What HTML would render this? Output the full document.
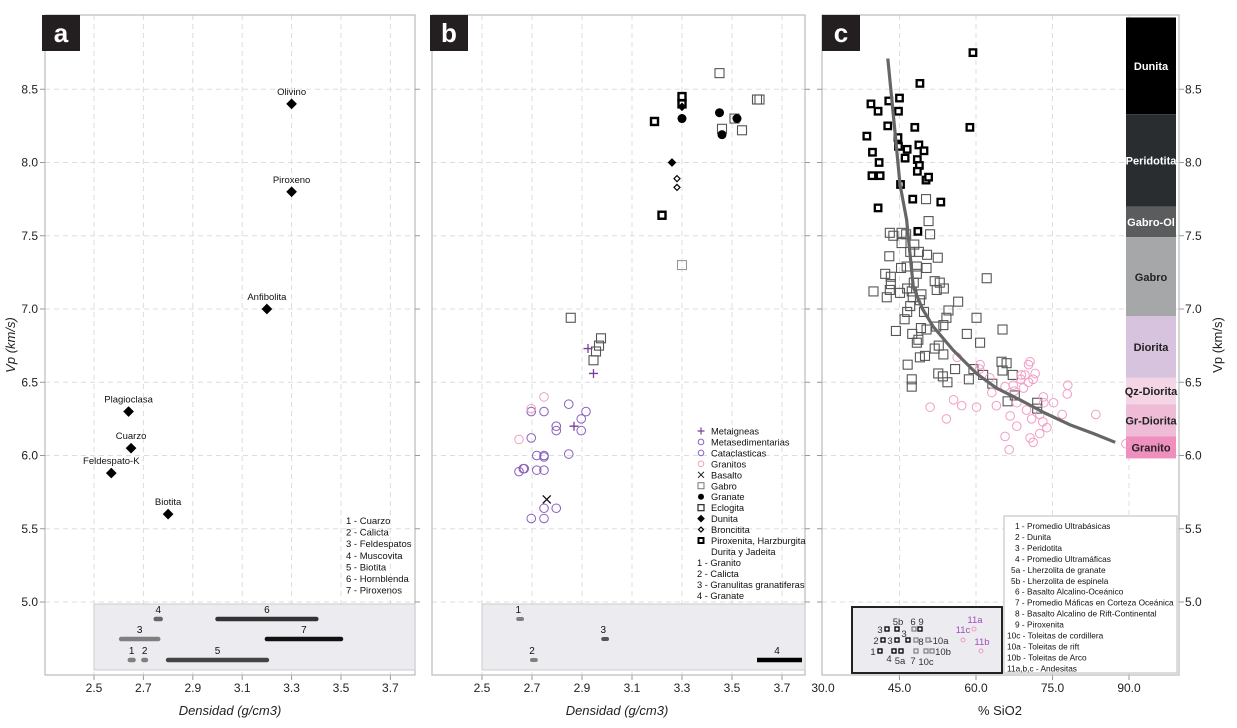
<!DOCTYPE html>
<html><head><meta charset="utf-8"><style>
body{margin:0;background:#fff;width:1237px;height:728px;overflow:hidden}
svg{display:block;font-family:"Liberation Sans",sans-serif}
</style></head><body>
<svg id="s" width="1237" height="728" viewBox="0 0 1237 728"></svg>
<script>
// ---- Panel a data ----
const minNames=["Olivino","Piroxeno","Anfibolita","Plagioclasa","Cuarzo","Feldespato-K","Biotita"];
const minDens=[3.3,3.3,3.2,2.64,2.65,2.57,2.8];
const minVp=[8.4,7.8,7.0,6.3,6.05,5.88,5.6];
const rangeLabels=["1","2","3","4","5","6","7"];
const rangeStart=[2.645,2.70,2.61,2.75,2.80,3.00,3.20];
const rangeEnd=[2.66,2.71,2.76,2.77,3.20,3.40,3.50];
const rangeRow=[0,0,1,2,0,2,1];
const rangeColor=["#7f7f7f","#7f7f7f","#7f7f7f","#666","#444","#333","#111"];
const legendA=["1 - Cuarzo","2 - Calicta","3 - Feldespatos","4 - Muscovita","5 - Biotita","6 - Hornblenda","7 - Piroxenos"];
const densTicks=[2.5,2.7,2.9,3.1,3.3,3.5,3.7];
const vpTicks=[5.0,5.5,6.0,6.5,7.0,7.5,8.0,8.5];
// ---- Panel b data ----
const gabroD=[3.45,3.60,3.61,3.54,3.46,3.51,2.855,2.976,2.968,2.956,2.946,3.30];
const gabroV=[8.61,8.43,8.43,8.22,8.23,8.30,6.94,6.80,6.75,6.71,6.65,7.30];
const piroxD=[3.30,3.30,3.19,3.22];
const piroxV=[8.45,8.40,8.28,7.64];
const granateD=[3.30,3.45,3.52,3.46];
const granateV=[8.30,8.34,8.30,8.19];
const dunitaD=[3.30,3.26];
const dunitaV=[8.38,8.00];
const bronD=[3.28,3.28];
const bronV=[7.89,7.83];
const metaigD=[2.924,2.946,2.868];
const metaigV=[6.73,6.56,6.20];
const metasedD=[2.847,2.916,2.897,2.748,2.697,2.797,2.797,2.897,2.697,2.719,2.748,2.748,2.847,2.648,2.665,2.669,2.719,2.748,2.748,2.797,2.697,2.748];
const metasedV=[6.35,6.30,6.25,6.30,6.30,6.20,6.17,6.17,6.12,6.00,6.00,5.99,6.01,5.89,5.91,5.91,5.90,5.90,5.64,5.64,5.57,5.57];
const granitosD=[2.748,2.697,2.648];
const granitosV=[6.40,6.32,6.11];
const basaltoD=[2.759];
const basaltoV=[5.70];
const rangeBLabels=["1","2","3","4"];
const rangeBStart=[2.645,2.70,2.985,3.60];
const rangeBEnd=[2.66,2.715,3.0,3.78];
const rangeBRow=[2,0,1,0];
const rangeBColor=["#7f7f7f","#7f7f7f","#555","#000"];
// ---- Panel c data ----
const ultraS=[59.4,49.0,39.4,40.8,42.9,45.0,44.8,42.7,48.0,58.8,38.6,44.7,44.8,46.5,48.8,49.8,39.7,41.0,46.1,48.5,48.9,48.5,39.6,41.2,50.2,50.7,45.2,47.6,53.1,40.8,48.6];
const ultraV=[8.75,8.54,8.40,8.35,8.42,8.44,8.35,8.25,8.24,8.24,8.18,8.17,8.11,8.09,8.12,8.08,8.07,8.00,8.03,8.02,7.98,7.94,7.91,7.91,7.88,7.90,7.85,7.75,7.73,7.69,7.53];
const maficS=[43.1,43.8,45.4,46.3,51.0,45.4,47.9,47.1,48.8,43.0,50.4,52.5,45.3,46.4,48.4,50.3,42.2,43.3,48.4,43.3,51.9,52.9,47.8,39.9,43.1,45.1,46.5,47.4,49.3,52.3,53.7,62.1,42.5,47.6,49.0,56.5,47.1,49.8,54.6,46.5,46.0,54.2,60.1,44.3,49.2,50.3,52.2,53.6,65.2,47.5,48.7,48.4,58.2,60.8,51.9,52.7,53.6,50.0,49.0,46.6,55.9,59.5,65.0,66.0,65.2,52.6,53.5,54.4,47.4,47.4,58.6,61.4,67.2,63.2,67.6,66.2,72.0,72.0,50.2,50.7];
const maficV=[7.52,7.50,7.52,7.51,7.51,7.45,7.44,7.39,7.39,7.36,7.37,7.35,7.28,7.29,7.29,7.28,7.24,7.22,7.24,7.17,7.19,7.18,7.18,7.12,7.13,7.11,7.14,7.12,7.10,7.13,7.14,7.21,7.08,7.08,7.06,7.05,7.02,6.98,6.99,6.98,6.93,6.94,6.94,6.85,6.87,6.86,6.88,6.89,6.86,6.83,6.79,6.77,6.83,6.77,6.73,6.75,6.69,6.68,6.67,6.62,6.59,6.59,6.64,6.63,6.58,6.56,6.54,6.50,6.52,6.47,6.52,6.55,6.55,6.49,6.41,6.37,6.36,6.32,7.75,7.60];
const felsS=[56.3,60.8,60.7,62.7,63.1,64.0,65.7,67.3,67.5,68.0,68.9,68.8,69.6,70.3,70.6,70.3,71.6,71.2,69.3,51.0,54.2,55.6,57.2,60.1,66.7,68.0,65.7,66.5,69.9,70.9,72.5,73.1,73.2,73.3,75.2,73.9,72.5,70.6,71.2,78.0,77.9,76.9,83.5,89.4];
const felsV=[6.67,6.62,6.59,6.53,6.43,6.34,6.47,6.48,6.44,6.36,6.55,6.52,6.55,6.50,6.64,6.62,6.56,6.52,6.46,6.33,6.25,6.38,6.34,6.33,6.27,6.20,6.13,6.04,6.31,6.25,6.28,6.23,6.40,6.36,6.36,6.19,6.15,6.12,6.09,6.48,6.42,6.28,6.28,6.08];
const curveS=[42.7,44.0,45.1,46.4,47.7,49.5,51.6,55.5,60.1,64.0,68.6,73.5,78.4,83.0,87.3];
const curveV=[8.71,8.25,7.85,7.61,7.15,7.00,6.88,6.72,6.56,6.46,6.38,6.29,6.21,6.15,6.09];
const rockNames=["Dunita","Peridotita","Gabro-Ol","Gabro","Diorita","Qz-Diorita","Gr-Diorita","Granito"];
const rockTop=[8.99,8.33,7.70,7.49,6.95,6.53,6.35,6.13];
const rockBot=[8.33,7.70,7.49,6.95,6.53,6.35,6.13,5.98];
const rockColor=["#000000","#2a2d30","#5a5c5e","#a5a7a9","#d8c3df","#f3d5e6","#efbcd8","#ef8fbd"];
const sioTicks=[30.0,45.0,60.0,75.0,90.0];
const legendC=["1 - Promedio Ultrabásicas","2 - Dunita","3 - Peridotita","4 - Promedio Ultramáficas","5a - Lherzolita de granate","5b - Lherzolita de espinela","6 - Basalto Alcalino-Oceánico","7 - Promedio Máficas en Corteza Oceánica","8 - Basalto Alcalino de Rift-Continental","9 - Piroxenita","10c - Toleitas de cordillera","10a - Toleitas de rift","10b - Toleitas de Arco","11a,b,c - Andesitas"];

const NS="http://www.w3.org/2000/svg";
const svg=document.getElementById('s');
function el(tag,attrs,parent,txt){const e=document.createElementNS(NS,tag);for(const k in attrs)e.setAttribute(k,attrs[k]);if(txt!==undefined)e.textContent=txt;(parent||svg).appendChild(e);return e;}
const Y=v=>602-(v-5)*146.5;
const xa=d=>94+(d-2.5)*247;
const xb=d=>482+(d-2.5)*250;
const xc=s=>823+(s-30)*5.1;

function frame(name,x0,x1,xs,ticks,fmt){
  const g=el('g',{});
  
  
  vpTicks.forEach(v=>{const l=el('line',{x1:x0,x2:x1,y1:Y(v),y2:Y(v),stroke:'#ddd','stroke-dasharray':'5,4'},g);
    });
  ticks.forEach(t=>{const l=el('line',{x1:xs(t),x2:xs(t),y1:15,y2:675,stroke:'#ddd','stroke-dasharray':'5,4'},g);
    
    el('line',{x1:xs(t),x2:xs(t),y1:675,y2:680,stroke:'#999'},g);
    const tx=el('text',{x:xs(t),y:692,'font-size':12,'text-anchor':'middle',fill:'#222'},g,fmt(t));
    });
  const r=el('rect',{x:x0,y:15,width:x1-x0,height:660,fill:'none',stroke:'#bbb','stroke-width':1.2},g);
  
  return g;
}
function badge(x,letter){const g=el('g',{});
  el('rect',{x:x,y:15,width:38,height:36,fill:'#231f20'},g);
  el('text',{x:x+19,y:42,'font-size':26,'font-weight':'bold','text-anchor':'middle',fill:'#fff'},g,letter);}
function diamond(g,x,y,r,fill,stroke){return el('path',{d:`M${x} ${y-r}L${x+r} ${y}L${x} ${y+r}L${x-r} ${y}Z`,fill:fill,stroke:stroke||fill,'stroke-width':1.2},g);}

// ===== Panel a =====
const ga=frame('a',45,415,xa,densTicks,t=>t.toFixed(1));
vpTicks.forEach(v=>{el('line',{x1:40,x2:45,y1:Y(v),y2:Y(v),stroke:'#999'},ga);el('line',{x1:415,x2:420,y1:Y(v),y2:Y(v),stroke:'#999'},ga);
  const t=el('text',{x:38,y:Y(v)+4,'font-size':12,'text-anchor':'end',fill:'#222'},ga,v.toFixed(1));
  });
badge(42,'a');
minNames.forEach((n,i)=>{const p=diamond(ga,xa(minDens[i]),Y(minVp[i]),4.5,'#000');
  
  const t=el('text',{x:xa(minDens[i]),y:Y(minVp[i])-9,'font-size':9.5,'text-anchor':'middle',fill:'#111'},ga,n);
  });
let inA=el('rect',{x:94,y:604,width:321,height:66,fill:'#ecebf0',stroke:'#ccc'},ga);

const rowY=[660,639,619];
rangeLabels.forEach((l,i)=>{const y=rowY[rangeRow[i]];
  const b=el('line',{x1:xa(rangeStart[i]),x2:xa(rangeEnd[i]),y1:y,y2:y,stroke:rangeColor[i],'stroke-width':4.5,'stroke-linecap':'round'},ga);
  
  el('text',{x:(xa(rangeStart[i])+xa(rangeEnd[i]))/2,y:y-6,'font-size':10,'text-anchor':'middle',fill:'#111'},ga,l);});
legendA.forEach((l,i)=>{const t=el('text',{x:346,y:524+i*11.6,'font-size':9.5,fill:'#111'},ga,l);
  });
let ta=el('text',{x:15,y:345,'font-size':13,'font-style':'italic','text-anchor':'middle',transform:'rotate(-90 15 345)',fill:'#222'},svg,'Vp (km/s)');

ta=el('text',{x:230,y:715,'font-size':13,'font-style':'italic','text-anchor':'middle',fill:'#222'},svg,'Densidad (g/cm3)');


// ===== Panel b =====
const gb=frame('b',432,805,xb,densTicks,t=>t.toFixed(1));
vpTicks.forEach(v=>{el('line',{x1:805,x2:810,y1:Y(v),y2:Y(v),stroke:'#999'},gb);});
badge(430,'b');
let inB=el('rect',{x:482,y:604,width:323,height:66,fill:'#ecebf0',stroke:'#ccc'},gb);

rangeBLabels.forEach((l,i)=>{const y=rowY[rangeBRow[i]];
  const b=el('line',{x1:xb(rangeBStart[i]),x2:xb(rangeBEnd[i]),y1:y,y2:y,stroke:rangeBColor[i],'stroke-width':i==3?4.5:4,'stroke-linecap':i==3?'butt':'round'},gb);
  
  el('text',{x:i==3?777:xb(rangeBStart[i]),y:y-6,'font-size':10,'text-anchor':'middle',fill:'#111'},gb,l);});
function sq(g,x,y,s,stroke,sw,fill){return el('rect',{x:x-s/2,y:y-s/2,width:s,height:s,fill:fill||'none',stroke:stroke,'stroke-width':sw},g);}
gabroD.forEach((d,i)=>{const p=sq(gb,xb(d),Y(gabroV[i]),9,i==11?'#999':'#555',1.1);});
piroxD.forEach((d,i)=>{const p=sq(gb,xb(d),Y(piroxV[i]),7,'#000',2.4,'#fff');});
granateD.forEach((d,i)=>{const p=el('circle',{cx:xb(d),cy:Y(granateV[i]),r:4.5,fill:'#000'},gb);});
dunitaD.forEach((d,i)=>{const p=diamond(gb,xb(d),Y(dunitaV[i]),3.5,'#000');});
bronD.forEach((d,i)=>{const p=diamond(gb,xb(d),Y(bronV[i]),3,'#fff','#000');});
metasedD.forEach((d,i)=>{const p=el('circle',{cx:xb(d),cy:Y(metasedV[i]),r:4.3,fill:'none',stroke:'#8a5fbe','stroke-width':1},gb);});
granitosD.forEach((d,i)=>{const p=el('circle',{cx:xb(d),cy:Y(granitosV[i]),r:4.3,fill:'none',stroke:'#f0a0c0','stroke-width':1},gb);});
metaigD.forEach((d,i)=>{const x=xb(d),y=Y(metaigV[i]);const p=el('path',{d:`M${x-4.5} ${y}H${x+4.5}M${x} ${y-4.5}V${y+4.5}`,stroke:'#7a3f9e','stroke-width':1.3},gb);});
basaltoD.forEach((d,i)=>{const x=xb(d),y=Y(basaltoV[i]);const p=el('path',{d:`M${x-4} ${y-4}L${x+4} ${y+4}M${x+4} ${y-4}L${x-4} ${y+4}`,stroke:'#111','stroke-width':1.3},gb);});
// legend b
const lgB=el('g',{},gb);
const lbItems=["Metaigneas","Metasedimentarias","Cataclasticas","Granitos","Basalto","Gabro","Granate","Eclogita","Dunita","Broncitita","Piroxenita, Harzburgita","Durita y Jadeita","1 - Granito","2 - Calicta","3 - Granulitas granatiferas","4 - Granate"];
lbItems.forEach((l,i)=>{const y=431+i*10.95;const x=701;
  if(i==0)el('path',{d:`M${x-3.5} ${y}H${x+3.5}M${x} ${y-3.5}V${y+3.5}`,stroke:'#7a3f9e','stroke-width':1.2},lgB);
  if(i==1||i==2)el('circle',{cx:x,cy:y,r:2.8,fill:'none',stroke:'#8a5fbe'},lgB);
  if(i==3)el('circle',{cx:x,cy:y,r:2.8,fill:'none',stroke:'#f0a0c0'},lgB);
  if(i==4)el('path',{d:`M${x-3} ${y-3}L${x+3} ${y+3}M${x+3} ${y-3}L${x-3} ${y+3}`,stroke:'#111'},lgB);
  if(i==5)sq(lgB,x,y,6,'#666',0.9);
  if(i==6)el('circle',{cx:x,cy:y,r:3,fill:'#000'},lgB);
  if(i==7)sq(lgB,x,y,6,'#333',1.3);
  if(i==8)diamond(lgB,x,y,3,'#000');
  if(i==9)diamond(lgB,x,y,2.5,'#fff','#000');
  if(i==10)sq(lgB,x,y,5,'#000',2,'#fff');
  const t=el('text',{x:i>=12?697:711,y:y+3.5,'font-size':9.3,fill:'#111'},lgB,l);
  });
ta=el('text',{x:617,y:715,'font-size':13,'font-style':'italic','text-anchor':'middle',fill:'#222'},svg,'Densidad (g/cm3)');


// ===== Panel c =====
const gc=frame('c',822,1179,xc,sioTicks.slice(1),t=>t.toFixed(1));
el('text',{x:823,y:692,'font-size':12,'text-anchor':'middle',fill:'#222'},gc,'30.0');
vpTicks.forEach(v=>{el('line',{x1:1179,x2:1184,y1:Y(v),y2:Y(v),stroke:'#999'},gc);el('line',{x1:817,x2:822,y1:Y(v),y2:Y(v),stroke:'#999'},gc);
  const t=el('text',{x:1185,y:Y(v)+4,'font-size':12,fill:'#222'},gc,v.toFixed(1));
  });
badge(822,'c');
rockNames.forEach((n,i)=>{const r=el('rect',{x:1126,y:Y(rockTop[i]),width:50,height:Y(rockBot[i])-Y(rockTop[i]),fill:rockColor[i]},gc);
  
  const t=el('text',{x:1151,y:(Y(rockTop[i])+Y(rockBot[i]))/2+4,'font-size':11,'font-weight':'bold','text-anchor':'middle',fill:i<3?'#fff':'#222'},gc,n);
  });
maficS.forEach((s,i)=>{const p=sq(gc,xc(s),Y(maficV[i]),9,'#555',1.1);});
felsS.forEach((s,i)=>{const p=el('circle',{cx:xc(s),cy:Y(felsV[i]),r:4.3,fill:'none',stroke:'#f29cc6','stroke-width':1},gc);});
ultraS.forEach((s,i)=>{const p=sq(gc,xc(s),Y(ultraV[i]),6.5,'#000',2.3,'#fff');});
let cd='';curveS.forEach((s,i)=>{cd+=(i?'L':'M')+xc(s).toFixed(1)+' '+Y(curveV[i]).toFixed(1);});
const cv=el('path',{d:cd,fill:'none',stroke:'#666','stroke-width':3.2,'stroke-linejoin':'round'},gc);

// inset c
const inC=el('g',{},gc);
el('rect',{x:852,y:607,width:150,height:66,fill:'#ecebf0',stroke:'#222','stroke-width':2},inC);
const insetPts=[[880,651,'b','1',873,655],[883,640,'b','2',876,644],[887,629,'b','3',880,633],[897,629,'b','5b',898,625],[897,640,'b','3',890,644],[908,640,'b','3',904,637],[894,651,'b','4',889,662],[901,651,'b','5a',900,664],
 [914,629,'g','6',913,625],[920,629,'b','9',921,625],[916,640,'g','8',921,645],[928,640,'g','-10a',939,644],[916,651,'g','7',913,664],[926,651,'g','10c',926,665],[932,651,'g','10b',943,655]];
insetPts.forEach(p=>{sq(inC,p[0],p[1],4,p[2]=='b'?'#000':'#888',1.3);el('text',{x:p[4],y:p[5],'font-size':9.5,'text-anchor':'middle',fill:'#333'},inC,p[3]);});
[[974,629,'11a',975,625],[963,640,'11c',963,635],[981,651,'11b',982,647]].forEach(p=>{el('circle',{cx:p[0],cy:p[1],r:2,fill:'none',stroke:'#f09cc4'},inC);el('text',{x:p[3],y:p[4]-2,'font-size':9.5,'text-anchor':'middle',fill:'#a050b8'},inC,p[2]);});
const lgC=el('g',{},gc);
el('rect',{x:1004,y:516,width:173,height:157,fill:'#fff',stroke:'#bbb'},lgC);
legendC.forEach((l,i)=>{const t=el('text',{x:1015,y:529+i*10.95,'font-size':8.3,fill:'#111'},lgC,l);
  if(/^(10|11)/.test(l))t.setAttribute('x',1007);else if(/^5/.test(l))t.setAttribute('x',1011);else t.setAttribute('x',1015);
  });
ta=el('text',{x:1222,y:345,'font-size':13,'text-anchor':'middle',transform:'rotate(-90 1222 345)',fill:'#222'},svg,'Vp (km/s)');

ta=el('text',{x:1000,y:715,'font-size':13,'text-anchor':'middle',fill:'#222'},svg,'% SiO2');

</script>
</body></html>
